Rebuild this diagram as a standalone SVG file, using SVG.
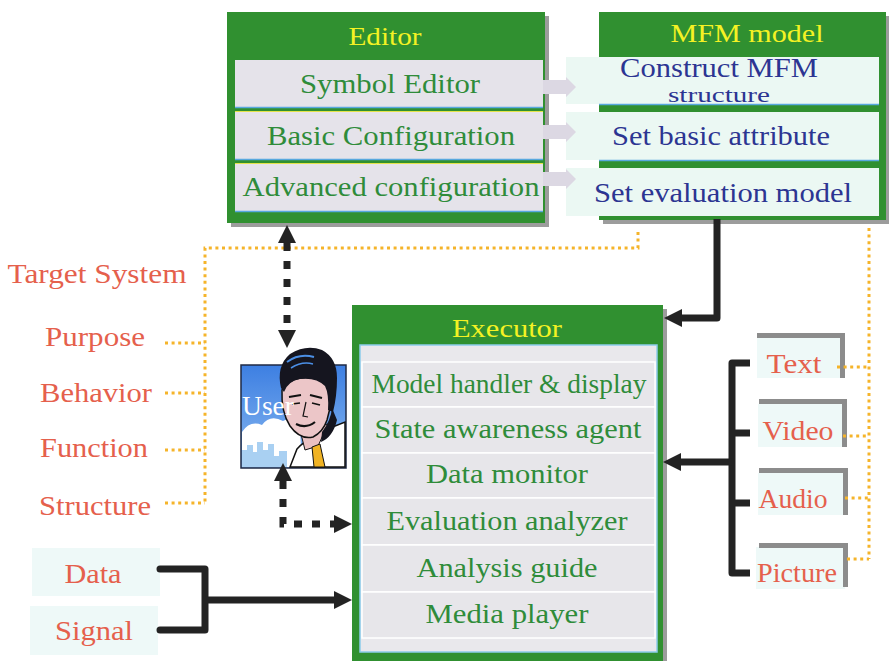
<svg xmlns="http://www.w3.org/2000/svg" width="889" height="661" viewBox="0 0 889 661" font-family="'Liberation Serif', 'Times New Roman', serif">
  <defs>
    <style>
      text { font-family: "Liberation Serif", "Times New Roman", serif; }
      .title { font-size: 26px; fill: #f4f224; text-anchor: middle; }
      .ed { font-size: 28px; fill: #2f8c3a; text-anchor: middle; }
      .mfm { font-size: 28px; fill: #2c3592; text-anchor: middle; }
      .lbl { font-size: 27px; fill: #e5604c; text-anchor: middle; }
      .green { fill: #309030; }
      .shadow { fill: #9c9c9c; }
      .edrow { fill: #e5e3ea; }
      .mrow { fill: #ebf8f3; }
      .xrow { fill: #e7e6ea; stroke: #ffffff; stroke-width: 1.5; }
      .sep-blue { stroke: #58a8de; stroke-width: 1.5; }
      .sep-yel { stroke: #e4e44a; stroke-width: 1; }
      .orange { fill: none; stroke: #f5b42a; stroke-width: 3; stroke-dasharray: 3 3.6; }
      .solid { fill: none; stroke: #232323; stroke-width: 7; stroke-linejoin: round; }
      .dash { fill: none; stroke: #232323; stroke-width: 7; stroke-dasharray: 8 10; }
      .frame { fill: none; stroke: #8c8c8c; stroke-width: 5; }
      .mint { fill: #eef9f8; }
      .tab { fill: #dcd8e3; }
    </style>
    <marker id="ah" viewBox="0 0 10 10" refX="0" refY="5" markerWidth="18" markerHeight="18" markerUnits="userSpaceOnUse" orient="auto-start-reverse">
      <path d="M0,0 L10,5 L0,10 Z" fill="#232323"/>
    </marker>
    <linearGradient id="sky" x1="0" y1="0" x2="0" y2="1">
      <stop offset="0" stop-color="#3d7fe2"/>
      <stop offset="1" stop-color="#8ab9f0"/>
    </linearGradient>
  </defs>

  <rect width="889" height="661" fill="#ffffff"/>

  <!-- light label backdrops -->
  <rect class="mint" x="32" y="548" width="128" height="48"/>
  <rect class="mint" x="30" y="606" width="128" height="49"/>

  <!-- Editor -->
  <g id="editor">
    <rect class="shadow" x="231" y="16" width="318" height="211"/>
    <rect class="green" x="227" y="12" width="318" height="211"/>
    <text class="title" x="385" y="45" textLength="73" lengthAdjust="spacingAndGlyphs">Editor</text>
    <rect class="edrow" x="235" y="60" width="308" height="47"/>
    <rect class="edrow" x="235" y="112" width="308" height="47"/>
    <rect class="edrow" x="235" y="164" width="308" height="47"/>
    <line class="sep-blue" x1="235" y1="107.5" x2="543" y2="107.5"/>
    <line class="sep-blue" x1="235" y1="159.5" x2="543" y2="159.5"/>
    <line class="sep-blue" x1="235" y1="211.5" x2="543" y2="211.5"/>
    <line class="sep-yel" x1="235" y1="111.5" x2="543" y2="111.5"/>
    <line class="sep-yel" x1="235" y1="163.5" x2="543" y2="163.5"/>
    <text class="ed" x="390" y="93" textLength="180" lengthAdjust="spacingAndGlyphs">Symbol Editor</text>
    <text class="ed" x="391" y="145" textLength="248" lengthAdjust="spacingAndGlyphs">Basic Configuration</text>
    <text class="ed" x="391" y="196" textLength="297" lengthAdjust="spacingAndGlyphs">Advanced configuration</text>
  </g>

  <!-- MFM model -->
  <g id="mfm">
    <rect class="shadow" x="603" y="16" width="286" height="208"/>
    <rect class="green" x="599" y="12" width="287" height="208"/>
    <text class="title" x="747" y="42" textLength="153" lengthAdjust="spacingAndGlyphs">MFM model</text>
    <rect class="mrow" x="566" y="57" width="313" height="47"/>
    <rect class="mrow" x="566" y="112" width="313" height="48"/>
    <rect class="mrow" x="566" y="168" width="313" height="48"/>
    <line class="sep-blue" x1="599" y1="104.5" x2="879" y2="104.5"/>
    <line class="sep-blue" x1="599" y1="160.5" x2="879" y2="160.5"/>
    <text class="mfm" x="719" y="77" style="font-size:27px" textLength="198" lengthAdjust="spacingAndGlyphs">Construct MFM</text>
    <text class="mfm" x="719" y="102" style="font-size:22px" textLength="102" lengthAdjust="spacingAndGlyphs">structure</text>
    <text class="mfm" x="721" y="145" textLength="218" lengthAdjust="spacingAndGlyphs">Set basic attribute</text>
    <text class="mfm" x="723" y="202" textLength="258" lengthAdjust="spacingAndGlyphs">Set evaluation model</text>
  </g>

  <!-- hand-over tabs between Editor rows and MFM rows -->
  <g id="tabs">
    <path class="tab" d="M543,80 H566 V77 L576,87 L566,97 V94 H543 Z"/>
    <path class="tab" d="M543,125 H566 V122 L576,132 L566,142 V139 H543 Z"/>
    <path class="tab" d="M543,172 H566 V169 L576,179 L566,189 V186 H543 Z"/>
  </g>

  <!-- Executor -->
  <g id="executor">
    <rect class="shadow" x="356" y="309" width="311" height="360"/>
    <rect class="green" x="352" y="305" width="311" height="360"/>
    <text class="title" x="507" y="337" textLength="110" lengthAdjust="spacingAndGlyphs">Executor</text>
    <rect x="360" y="345" width="297" height="307" fill="#e9e8ec" stroke="#8ccbea" stroke-width="1.5"/>
    <rect class="xrow" x="362" y="362" width="293" height="45"/>
    <rect class="xrow" x="362" y="407" width="293" height="46"/>
    <rect class="xrow" x="362" y="453" width="293" height="45"/>
    <rect class="xrow" x="362" y="498" width="293" height="47"/>
    <rect class="xrow" x="362" y="545" width="293" height="47"/>
    <rect class="xrow" x="362" y="592" width="293" height="46"/>
    <text class="ed" x="509" y="393" textLength="275" lengthAdjust="spacingAndGlyphs">Model handler &amp; display</text>
    <text class="ed" x="508" y="438" textLength="267" lengthAdjust="spacingAndGlyphs">State awareness agent</text>
    <text class="ed" x="507" y="483" textLength="162" lengthAdjust="spacingAndGlyphs">Data monitor</text>
    <text class="ed" x="507" y="530" textLength="241" lengthAdjust="spacingAndGlyphs">Evaluation analyzer</text>
    <text class="ed" x="507" y="577" textLength="181" lengthAdjust="spacingAndGlyphs">Analysis guide</text>
    <text class="ed" x="507" y="623" textLength="163" lengthAdjust="spacingAndGlyphs">Media player</text>
  </g>

  <!-- Target system labels -->
  <g id="target">
    <text class="lbl" x="97" y="283" textLength="179" lengthAdjust="spacingAndGlyphs">Target System</text>
    <text class="lbl" x="95" y="346" textLength="100" lengthAdjust="spacingAndGlyphs">Purpose</text>
    <text class="lbl" x="96" y="402" textLength="112" lengthAdjust="spacingAndGlyphs">Behavior</text>
    <text class="lbl" x="94" y="457" textLength="108" lengthAdjust="spacingAndGlyphs">Function</text>
    <text class="lbl" x="95" y="515" textLength="112" lengthAdjust="spacingAndGlyphs">Structure</text>
  </g>

  <!-- Inputs -->
  <g id="inputs">
    <text class="lbl" x="93" y="583" textLength="57" lengthAdjust="spacingAndGlyphs">Data</text>
    <text class="lbl" x="94" y="640" textLength="78" lengthAdjust="spacingAndGlyphs">Signal</text>
  </g>

  <!-- Media items -->
  <g id="media">
    <rect class="mint" x="757" y="337" width="84" height="41"/>
    <rect class="mint" x="758" y="404" width="86" height="43"/>
    <rect class="mint" x="758" y="473" width="87" height="42"/>
    <rect class="mint" x="756" y="547" width="89" height="42"/>
    <path class="frame" d="M757,335.5 H842.5 V378"/>
    <path class="frame" d="M759,401.5 H844.5 V447"/>
    <path class="frame" d="M759,470.5 H845.5 V515"/>
    <path class="frame" d="M759,545.5 H845.5 V587"/>
    <text class="lbl" x="794" y="373" textLength="55" lengthAdjust="spacingAndGlyphs">Text</text>
    <text class="lbl" x="798" y="440" textLength="71" lengthAdjust="spacingAndGlyphs">Video</text>
    <text class="lbl" x="793" y="508" textLength="69" lengthAdjust="spacingAndGlyphs">Audio</text>
    <text class="lbl" x="797" y="582" textLength="80" lengthAdjust="spacingAndGlyphs">Picture</text>
  </g>

  <!-- User -->
  <g id="user">
    <rect x="241" y="365" width="105" height="103" fill="url(#sky)" stroke="#1f2a44" stroke-width="1.5"/>
    <path d="M242,432 Q250,420 262,425 Q270,414 283,421 Q293,416 300,428 L302,467 L242,467 Z" fill="#ffffff"/>
    <path d="M242,467 V450 h5 v-5 h6 v7 h4 v-10 h6 v8 h5 v-6 h6 v12 h5 v-5 h8 V467 Z" fill="#a9d0f2"/>
    <path d="M290,467 L297,449 Q304,441 312,439 L330,428 Q340,424 345,422 L345,467 Z" fill="#ffffff" stroke="#111" stroke-width="1.5"/>
    <path d="M300,430 L305,450 L318,446 L328,424 Z" fill="#e9c0c2" stroke="#111" stroke-width="1"/>
    <path d="M312,447 L320,444 L325,467 L314,467 Z" fill="#f0b324" stroke="#111" stroke-width="1"/>
    <path d="M282,390 Q281,412 290,426 Q300,440 313,437 Q323,432 327,420 L331,404 Q334,392 328,384 Q315,376 300,378 Q288,380 282,390 Z" fill="#ecc6c8" stroke="#111" stroke-width="1.5"/>
    <path d="M281,388 Q276,366 290,354 Q306,344 322,350 Q337,358 337,378 Q337,396 333,412 L328,410 Q329,394 325,386 Q316,377 300,379 Q288,381 284,392 Z" fill="#15151f"/>
    <path d="M322,432 Q331,420 332,408 L337,420 Q333,437 321,442 Z" fill="#15151f"/>
    <path d="M287,362 Q299,353 314,357" fill="none" stroke="#4b8fe6" stroke-width="2"/>
    <path d="M291,368 Q302,361 313,364" fill="none" stroke="#4b8fe6" stroke-width="1.5"/>
    <path d="M289,397 L301,395 M310,395 L322,398" stroke="#111" stroke-width="2.2" fill="none"/>
    <path d="M292,404 L300,403 M312,403 L320,405" stroke="#111" stroke-width="1.6" fill="none"/>
    <path d="M306,402 L303,416 L308,417" stroke="#111" stroke-width="1.2" fill="none"/>
    <path d="M296,424 Q306,429 315,422" stroke="#111" stroke-width="2.2" fill="none"/>
    <text x="242" y="415" style="font-size:28px;fill:#ffffff" textLength="52" lengthAdjust="spacingAndGlyphs">User</text>
  </g>

  <!-- connectors -->
  <g id="connectors">
    <path class="orange" d="M638,232 V248 H205 V503"/>
    <path class="orange" d="M165,343 H205 M165,393 H205 M165,450 H205 M165,503 H205"/>
    <path class="orange" d="M869,228 V559"/>
    <path class="orange" d="M837,367 H869 M843,436 H869 M845,498 H869 M847,559 H869"/>

    <path class="dash" d="M287,243 V330" marker-start="url(#ah)" marker-end="url(#ah)"/>
    <path class="dash" d="M283,481 V524 H334" marker-start="url(#ah)" marker-end="url(#ah)"/>

    <path class="solid" d="M717,219 V318 H682" marker-end="url(#ah)"/>
    <path class="solid" d="M750,363 H732 V573 H750 M732,433 H750 M732,503 H750"/>
    <path class="solid" d="M732,462 H681" marker-end="url(#ah)"/>
    <path class="solid" d="M160,569 H205 V630 H160" style="stroke-linecap:round"/>
    <path class="solid" d="M205,600 H334" marker-end="url(#ah)"/>
  </g>
</svg>
